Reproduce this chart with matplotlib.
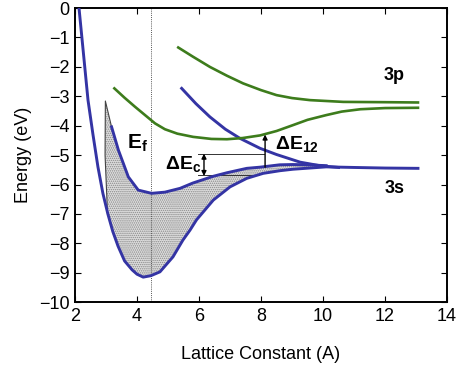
import numpy as np
import matplotlib.pyplot as plt

plt.rcParams['font.family'] = ['Liberation Sans', 'DejaVu Sans']
plt.rcParams['mathtext.fontset'] = 'custom'
plt.rcParams['mathtext.rm'] = 'Liberation Sans'
plt.rcParams['mathtext.bf'] = 'Liberation Sans:bold'
plt.rcParams['mathtext.it'] = 'Liberation Sans:italic'
plt.rcParams['hatch.linewidth'] = 0.7

# outer 3s curve (bottom of band)
x_outer = [2.13, 2.42, 2.58, 2.74, 2.9, 3.06, 3.22, 3.39, 3.6, 3.84, 4.0, 4.2, 4.45,
           4.74, 5.16, 5.48, 5.71, 5.92, 6.46, 7.0, 7.54, 8.07, 8.61, 9.03, 10.1,
           11.0, 12.0, 13.06]
y_outer = [0.0, -3.13, -4.3, -5.4, -6.3, -7.0, -7.6, -8.1, -8.6, -8.9, -9.05, -9.15, -9.1,
           -8.97, -8.46, -7.89, -7.55, -7.2, -6.53, -6.08, -5.79, -5.62, -5.53, -5.48, -5.4,
           -5.42, -5.44, -5.45]

# inner 3s curve (top of band)
x_inner = [3.18, 3.40, 3.72, 4.04, 4.47, 4.9, 5.39, 5.8, 6.46, 6.9, 7.54, 7.97, 8.6,
           9.03, 9.5, 10.1]
y_inner = [-4.04, -4.83, -5.74, -6.19, -6.30, -6.26, -6.13, -5.95, -5.72, -5.6, -5.45,
           -5.41, -5.33, -5.32, -5.33, -5.36]

# spike at the left edge of the band
x_spike = [3.05, 2.97, 2.98, 3.18]
y_spike = [-7.0, -5.0, -3.16, -4.04]

# upper 3s curve (descending)
x_3s_up = [5.44, 5.9, 6.35, 6.85, 7.32, 7.97, 8.5, 9.26, 9.9, 10.5]
y_3s_up = [-2.73, -3.25, -3.7, -4.12, -4.43, -4.77, -4.98, -5.24, -5.36, -5.42]

# 3p curves
x_3p_low = [3.27, 3.6, 3.94, 4.58, 4.9, 5.3, 5.81, 6.4, 6.9, 7.4, 7.97, 8.5, 9.03, 9.5,
            10.1, 10.6, 11.2, 12.0, 13.06]
y_3p_low = [-2.73, -3.05, -3.36, -3.92, -4.12, -4.27, -4.38, -4.45, -4.46, -4.42, -4.33,
            -4.18, -3.98, -3.8, -3.64, -3.52, -3.44, -3.4, -3.39]
x_3p_up = [5.33, 5.8, 6.35, 6.9, 7.42, 8.0, 8.5, 9.0, 9.58, 10.65, 12.0, 13.06]
y_3p_up = [-1.34, -1.65, -2.0, -2.3, -2.56, -2.79, -2.96, -3.06, -3.13, -3.19, -3.2, -3.21]

x_fermi = 4.45

blue = '#3434a4'
green = '#3d7c1c'

fig = plt.figure(figsize=(4.6, 3.68), dpi=100)
ax = fig.add_axes([0.163, 0.179, 0.809, 0.799])

# shaded band between spike/inner curve and outer curve
lo_x = [x for x in x_outer if 3.05 <= x <= 10.1]
lo_y = [y for x, y in zip(x_outer, y_outer) if 3.05 <= x <= 10.1]
px = x_spike[1:] + x_inner[1:] + lo_x[::-1]
py = y_spike[1:] + y_inner[1:] + lo_y[::-1]
ax.fill(px, py, facecolor='#dedede', edgecolor='#888888', linewidth=0,
        hatch='........', zorder=1)

ax.axvline(x_fermi, color='#555555', lw=0.7, ls=(0, (1, 1.2)), zorder=2)

ax.plot(x_spike, y_spike, color='#444444', lw=0.8, zorder=3)
ax.plot(x_outer, y_outer, color=blue, lw=2.1, zorder=4)
ax.plot(x_inner, y_inner, color=blue, lw=2.1, zorder=4)
ax.plot(x_3s_up, y_3s_up, color=blue, lw=2.1, zorder=4)
ax.plot(x_3p_low, y_3p_low, color=green, lw=1.9, zorder=4)
ax.plot(x_3p_up, y_3p_up, color=green, lw=1.9, zorder=4)

# energy gaps
ax.plot([5.97, 8.1], [-4.95, -4.95], color='#333333', lw=0.7, zorder=3)
ax.plot([5.97, 7.95], [-5.69, -5.69], color='#333333', lw=0.7, zorder=3)
ax.annotate('', xy=(6.16, -4.95), xytext=(6.16, -5.71),
            arrowprops=dict(arrowstyle='<|-|>', color='black', lw=1.0,
                            mutation_scale=7, shrinkA=0, shrinkB=0), zorder=5)
ax.annotate('', xy=(8.13, -4.3), xytext=(8.13, -5.41),
            arrowprops=dict(arrowstyle='-|>', color='black', lw=1.0,
                            mutation_scale=7, shrinkA=0, shrinkB=0), zorder=5)

ax.text(4.0, -4.6, r'$\mathbf{E_f}$', fontsize=15, ha='center', va='center')
ax.text(5.5, -5.3, r'$\mathbf{\Delta E_c}$', fontsize=14, ha='center', va='center')
ax.text(8.45, -4.62, r'$\mathbf{\Delta E_{12}}$', fontsize=14, ha='left', va='center')
ax.text(12.3, -2.3, '3p', fontsize=13, fontweight='bold', ha='center', va='center')
ax.text(12.3, -6.12, '3s', fontsize=13, fontweight='bold', ha='center', va='center')

ax.set_xlim(2, 14)
ax.set_ylim(-10, 0)
ax.set_xticks([2, 4, 6, 8, 10, 12, 14])
ax.set_yticks(np.arange(-10, 1, 1))
ax.tick_params(direction='in', top=True, right=True, labelsize=13, length=4,
               width=0.8, pad=4)
for s in ax.spines.values():
    s.set_linewidth(1.4)
ax.set_xlabel('Lattice Constant (A)', fontsize=13, labelpad=15)
ax.set_ylabel('Energy (eV)', fontsize=13, labelpad=5)

fig.savefig('out.png', dpi=100)
